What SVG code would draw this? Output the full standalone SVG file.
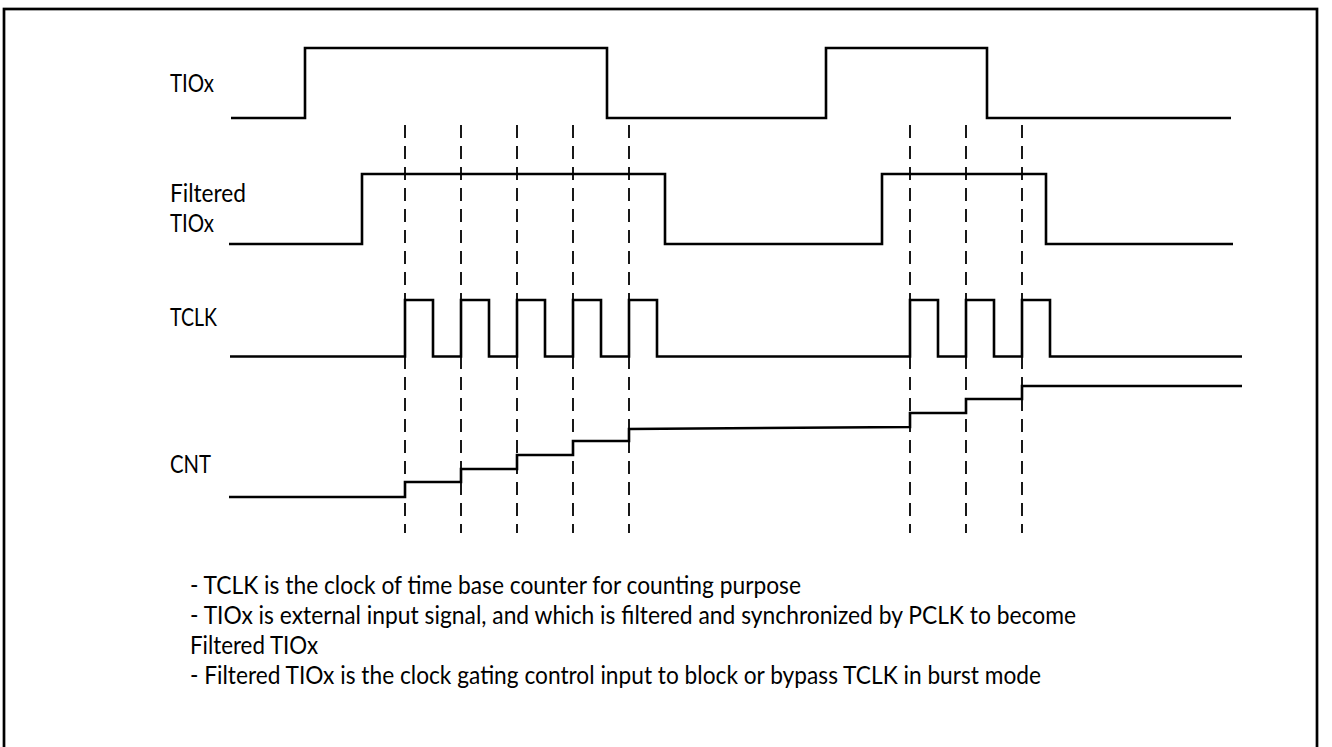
<svg xmlns="http://www.w3.org/2000/svg" width="1332" height="747" viewBox="0 0 1332 747">
<style>
.bg{fill:#ffffff}
.frame{fill:none;stroke:#000;stroke-width:2.7}
.wave{fill:none;stroke:#000;stroke-width:2.6;stroke-linejoin:miter;stroke-linecap:butt}
.dash{fill:none;stroke:#000;stroke-width:1.8;stroke-dasharray:13 8}
.lbl{font-family:Lato,"Liberation Sans","DejaVu Sans",sans-serif;font-size:24.5px;fill:#000}
.note{font-family:Lato,"Liberation Sans","DejaVu Sans",sans-serif;font-size:24.8px;fill:#000}
</style>
<rect class="bg" x="0" y="0" width="1332" height="747"/>
<rect class="frame" x="4" y="9" width="1313" height="740"/>
<g id="guides">
<path class="dash" d="M405,125V533M461,125V533M517,125V533M573,125V533M629,125V533M910,125V533M966,125V533M1022,125V533"/>
</g>
<g id="sig-tiox">
<text class="lbl" x="170" y="92" textLength="44" lengthAdjust="spacingAndGlyphs">TIOx</text>
<path class="wave" d="M231,118H305V48H607V118H826V48H987V118H1231"/>
</g>
<g id="sig-filtered">
<text class="lbl" x="170" y="202" textLength="76" lengthAdjust="spacingAndGlyphs">Filtered</text>
<text class="lbl" x="170" y="232" textLength="44" lengthAdjust="spacingAndGlyphs">TIOx</text>
<path class="wave" d="M229,244H362V174H665V244H882V174H1046V244H1233"/>
</g>
<g id="sig-tclk">
<text class="lbl" x="170" y="326" textLength="47" lengthAdjust="spacingAndGlyphs">TCLK</text>
<path class="wave" d="M230,356.5H405V300H433V356.5H461V300H489V356.5H517V300H545V356.5H573V300H601V356.5H629V300H657V356.5H910V300H938V356.5H966V300H994V356.5H1022V300H1050V356.5H1242"/>
</g>
<g id="sig-cnt">
<text class="lbl" x="170" y="473" textLength="41" lengthAdjust="spacingAndGlyphs">CNT</text>
<path class="wave" d="M229,497H405V482H461V469H517V455H573V441H629V429L910,427V413H966V399H1022V386H1242"/>
</g>
<g id="notes">
<text class="note" x="190" y="594" textLength="611" lengthAdjust="spacingAndGlyphs">- TCLK is the clock of time base counter for counting purpose</text>
<text class="note" x="190" y="624" textLength="886" lengthAdjust="spacingAndGlyphs">- TIOx is external input signal, and which is filtered and synchronized by PCLK to become</text>
<text class="note" x="190" y="654" textLength="128" lengthAdjust="spacingAndGlyphs">Filtered TIOx</text>
<text class="note" x="190" y="684" textLength="851" lengthAdjust="spacingAndGlyphs">- Filtered TIOx is the clock gating control input to block or bypass TCLK in burst mode</text>
</g>
</svg>
